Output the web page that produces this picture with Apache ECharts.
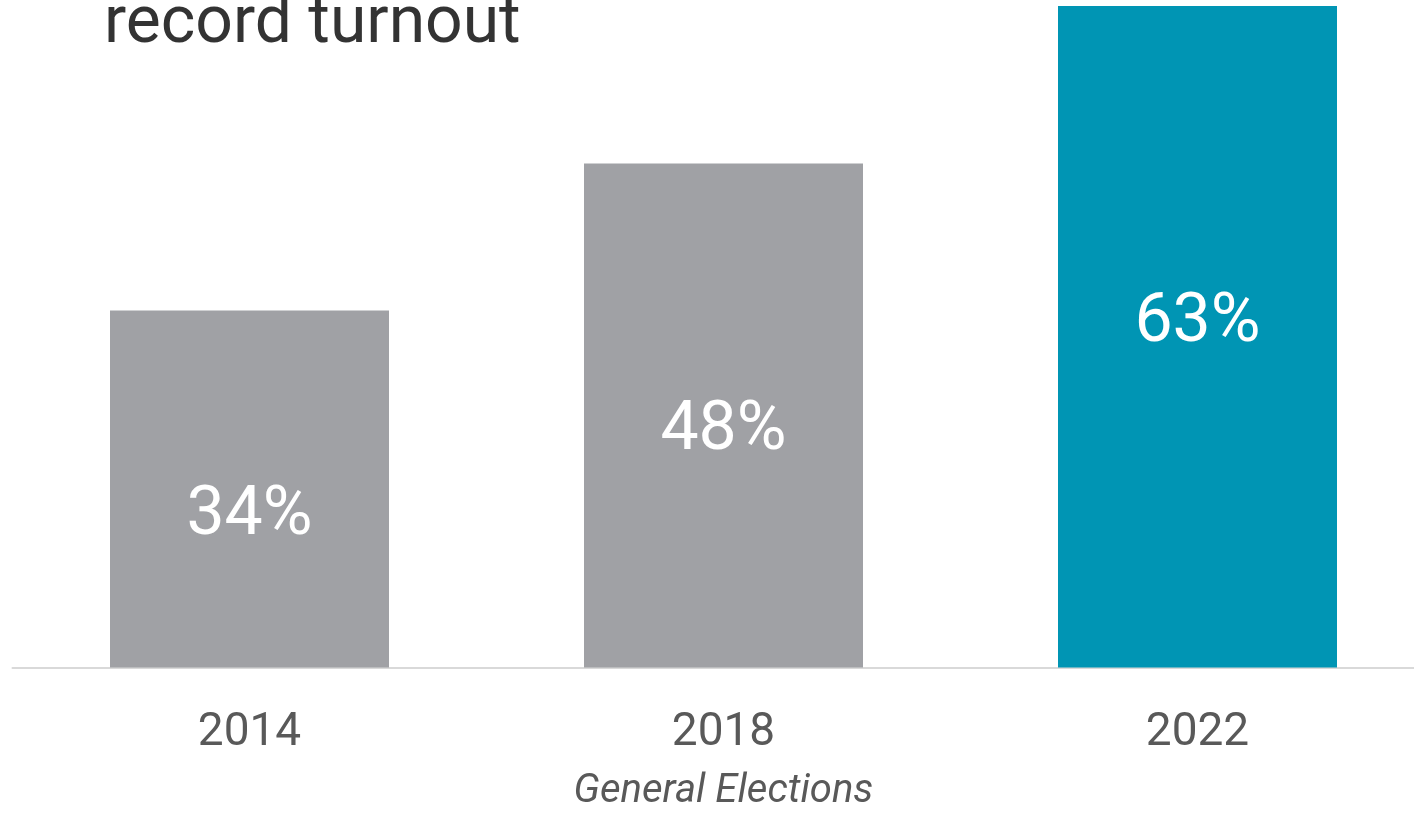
<!DOCTYPE html>
<html>
<head>
    <meta charset="utf-8">
    <title>Record turnout</title>
    <script src="https://cdn.jsdelivr.net/npm/echarts@6/dist/echarts.min.js"></script>
    <style>
        html, body { margin: 0; padding: 0; background: #fff; }
    </style>
</head>
<body>
    <div id="main" style="width: 1414px;height: 816px;"></div>
    <script type="text/javascript">
        // data
        var years = ['2014', '2018', '2022'];
        var turnout = [34, 48, 63];
        var barColors = ['#a0a1a5', '#a0a1a5', '#0095b4'];
        // vertical nudge of the value label inside each bar
        var labelShift = [28, 17, -13];

        var myChart = echarts.init(document.getElementById('main'));

        var seriesData = turnout.map(function (v, i) {
            return {
                value: v,
                itemStyle: { color: barColors[i] },
                label: { offset: [0, labelShift[i]] }
            };
        });

        var option = {
            animation: false,
            title: {
                text: 'record turnout',
                left: 99,
                top: -13,
                textStyle: {
                    fontFamily: 'Roboto',
                    fontWeight: 'normal',
                    fontSize: 66,
                    color: '#333333'
                }
            },
            grid: {
                left: 12.5,
                width: 1422,
                top: 0,
                bottom: 148.5,
                outerBoundsMode: 'none',
                containLabel: false
            },
            xAxis: {
                type: 'category',
                data: years,
                name: 'General Elections',
                nameLocation: 'middle',
                nameGap: 104,
                nameTextStyle: {
                    fontFamily: 'Roboto',
                    fontStyle: 'italic',
                    fontSize: 40,
                    color: '#595959'
                },
                axisLine: { lineStyle: { color: '#d9d9d9', width: 2 } },
                axisTick: { show: false },
                axisLabel: {
                    margin: 43,
                    fontFamily: 'Roboto',
                    fontSize: 46,
                    color: '#595959'
                }
            },
            yAxis: {
                type: 'value',
                min: 0,
                max: 63.57,
                show: false,
                splitLine: { show: false }
            },
            series: [{
                type: 'bar',
                data: seriesData,
                barWidth: 279,
                label: {
                    show: true,
                    position: 'inside',
                    formatter: '{c}%',
                    fontFamily: 'Roboto',
                    fontSize: 68,
                    color: '#ffffff'
                }
            }]
        };

        myChart.setOption(option);
    </script>
</body>
</html>
